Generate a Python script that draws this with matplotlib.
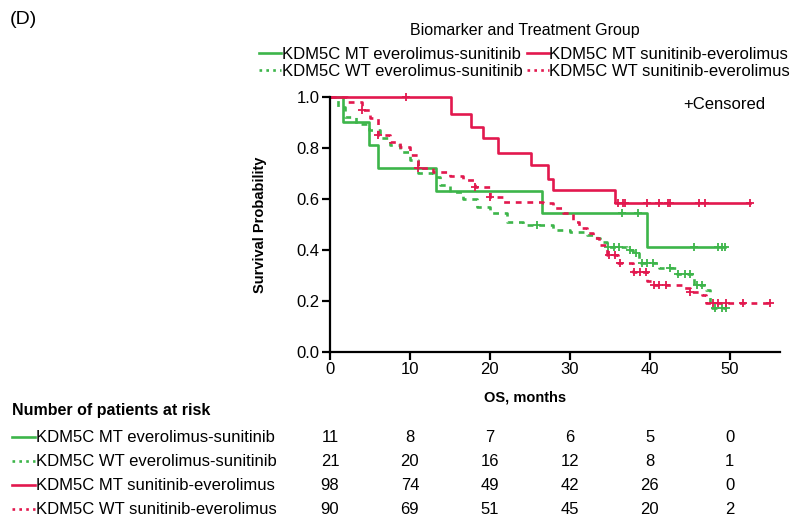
import numpy as np
import matplotlib
matplotlib.use('Agg')
from matplotlib import pyplot as plt
from matplotlib.lines import Line2D
from matplotlib import transforms

plt.rcParams['font.family'] = ['Liberation Sans', 'DejaVu Sans']

green = '#3db54a'
red = '#e2184e'

# KDM5C MT everolimus-sunitinib
t_mt_es = [0, 1.6, 4.9, 6.0, 13.2, 26.5, 39.6]
s_mt_es = [1.0, 0.903, 0.81, 0.72, 0.63, 0.546, 0.413]
end_mt_es = 49.4
c_mt_es = [36.5, 38.5, 45.6, 48.5, 49.0, 49.4]

# KDM5C WT everolimus-sunitinib
t_wt_es = [0, 1.0, 1.9, 3.3, 4.9, 6.2, 7.5, 8.7, 10.0, 11.0, 12.9, 13.7, 15.0, 16.6,
           18.4, 20.0, 22.1, 24.1, 27.9, 30.0, 32.1, 33.4, 33.8, 34.7, 37.1, 37.9,
           38.7, 41.2, 43.4, 45.6, 47.1, 47.5]
s_wt_es = [1.0, 0.96, 0.92, 0.896, 0.87, 0.84, 0.81, 0.785, 0.753, 0.70, 0.687, 0.655,
           0.626, 0.60, 0.57, 0.544, 0.51, 0.498, 0.478, 0.472, 0.459, 0.446, 0.433,
           0.413, 0.40, 0.387, 0.348, 0.328, 0.306, 0.263, 0.243, 0.171]
end_wt_es = 49.6
c_wt_es = [25.9, 34.8, 35.5, 36.2, 37.5, 38.3, 39.0, 39.6, 40.4, 42.5, 43.6, 44.4,
           45.0, 45.9, 46.5, 48.2, 49.0, 49.6]

# KDM5C MT sunitinib-everolimus
t_mt_se = [0, 15.1, 17.6, 19.1, 21.0, 25.2, 27.3, 27.9, 35.6]
s_mt_se = [1.0, 0.933, 0.884, 0.841, 0.782, 0.733, 0.677, 0.635, 0.583]
end_mt_se = 52.5
c_mt_se = [9.5, 36.0, 36.6, 36.9, 39.6, 41.2, 42.3, 42.5, 46.2, 46.9, 52.5]

# KDM5C WT sunitinib-everolimus
t_wt_se = [0, 2.1, 4.0, 5.0, 6.0, 7.5, 8.7, 10.0, 11.0, 12.9, 15.0, 16.7, 18.1, 20.0,
           21.7, 26.7, 27.9, 29.2, 30.4, 31.2, 32.1, 32.9, 33.7, 34.6, 36.0, 37.9,
           39.6, 40.5, 44.1, 45.0, 46.6, 47.1]
s_wt_se = [1.0, 0.98, 0.95, 0.916, 0.851, 0.825, 0.805, 0.773, 0.72, 0.704, 0.692,
           0.675, 0.648, 0.609, 0.59, 0.583, 0.563, 0.544, 0.511, 0.485, 0.465, 0.446,
           0.42, 0.38, 0.35, 0.315, 0.28, 0.263, 0.25, 0.236, 0.224, 0.193]
end_wt_se = 55.0
c_wt_se = [4.0, 6.0, 11.0, 18.1, 20.0, 34.9, 35.6, 36.3, 38.0, 38.8, 39.5, 40.5,
           41.2, 42.0, 45.0, 47.9, 48.5, 49.6, 51.7, 55.0]

groups = ['KDM5C MT everolimus-sunitinib', 'KDM5C WT everolimus-sunitinib',
          'KDM5C MT sunitinib-everolimus', 'KDM5C WT sunitinib-everolimus']
risk_times = [0, 10, 20, 30, 40, 50]
risk = [[11, 8, 7, 6, 5, 0],
        [21, 20, 16, 12, 8, 1],
        [98, 74, 49, 42, 26, 0],
        [90, 69, 51, 45, 20, 2]]

dash = (0, (2.2, 2.2))
dot = (0, (1.0, 1.6))
curves = [(t_mt_es, s_mt_es, end_mt_es, c_mt_es, green, '-'),
          (t_wt_es, s_wt_es, end_wt_es, c_wt_es, green, dash),
          (t_mt_se, s_mt_se, end_mt_se, c_mt_se, red, '-'),
          (t_wt_se, s_wt_se, end_wt_se, c_wt_se, red, dash)]

fig = plt.figure(figsize=(8, 5.19), dpi=100)
ax = fig.add_axes([0.4125, 0.3218, 0.5625, 0.4913])

handles = []
for (t, s, end, c, col, ls), name in zip(curves, groups):
    tt = list(t) + [end]
    ss = list(s) + [s[-1]]
    ax.step(tt, ss, where='post', color=col, lw=1.9, linestyle=ls, clip_on=False)
    idx = np.searchsorted(t, c, side='right') - 1
    ax.plot(c, np.array(s)[idx], '+', color=col, ms=6, mew=1.3, clip_on=False)
    handles.append(Line2D([], [], color=col, lw=1.9, linestyle='-' if ls == '-' else dot))

ax.set_xlim(0, 56.3)
ax.set_ylim(0, 1.0)
ax.set_xticks([0, 10, 20, 30, 40, 50])
ax.set_yticks([0, 0.2, 0.4, 0.6, 0.8, 1.0])
ax.set_yticklabels(['0.0', '0.2', '0.4', '0.6', '0.8', '1.0'])
ax.spines['top'].set_visible(False)
ax.spines['right'].set_visible(False)
for sp in ['left', 'bottom']:
    ax.spines[sp].set_linewidth(1.6)
ax.tick_params(direction='out', length=6, width=1.6, labelsize=12, pad=1.5)
ax.set_ylabel('Survival Probability', fontsize=10.5, fontweight='bold')
ax.yaxis.set_label_coords(-0.14, 0.5)
ax.set_xlabel('OS, months', fontsize=10.5, fontweight='bold')
ax.xaxis.set_label_coords(0.433, -0.15)

ax.text(44.2, 0.97, '+Censored', fontsize=12, va='center', ha='left')

fig.text(0.012, 0.962, '(D)', fontsize=14, va='center', ha='left')

fig.text(0.656, 1 - 31 / 519, 'Biomarker and Treatment Group', fontsize=11.5,
         va='center', ha='center')
fig.legend(handles, groups, ncol=2, loc='center', bbox_to_anchor=(0.656, 1 - 63 / 519),
           frameon=False, fontsize=12, handlelength=1.3, handletextpad=0.05,
           columnspacing=0.25, labelspacing=0.12, borderpad=0.0)

fig.text(0.015, 1 - 410 / 519, 'Number of patients at risk', fontsize=11.5,
         fontweight='bold', va='center', ha='left')
blend = transforms.blended_transform_factory(ax.transData, fig.transFigure)
row_y = [437, 461, 485, 509]
narrow = ['Liberation Sans Narrow', 'Liberation Sans']
for (t, s, end, c, col, ls), name, nums, y in zip(curves, groups, risk, row_y):
    yf = 1 - y / 519
    fig.add_artist(Line2D([0.015, 0.044], [yf, yf], color=col, lw=1.9,
                          linestyle='-' if ls == '-' else dot,
                          transform=fig.transFigure))
    fig.text(0.045, yf, name, fontsize=12, va='center', ha='left', family=narrow)
    for x, n in zip(risk_times, nums):
        fig.text(x, yf, str(n), fontsize=12, va='center', ha='center',
                 transform=blend, family=narrow)

fig.savefig('out.png', dpi=100)
